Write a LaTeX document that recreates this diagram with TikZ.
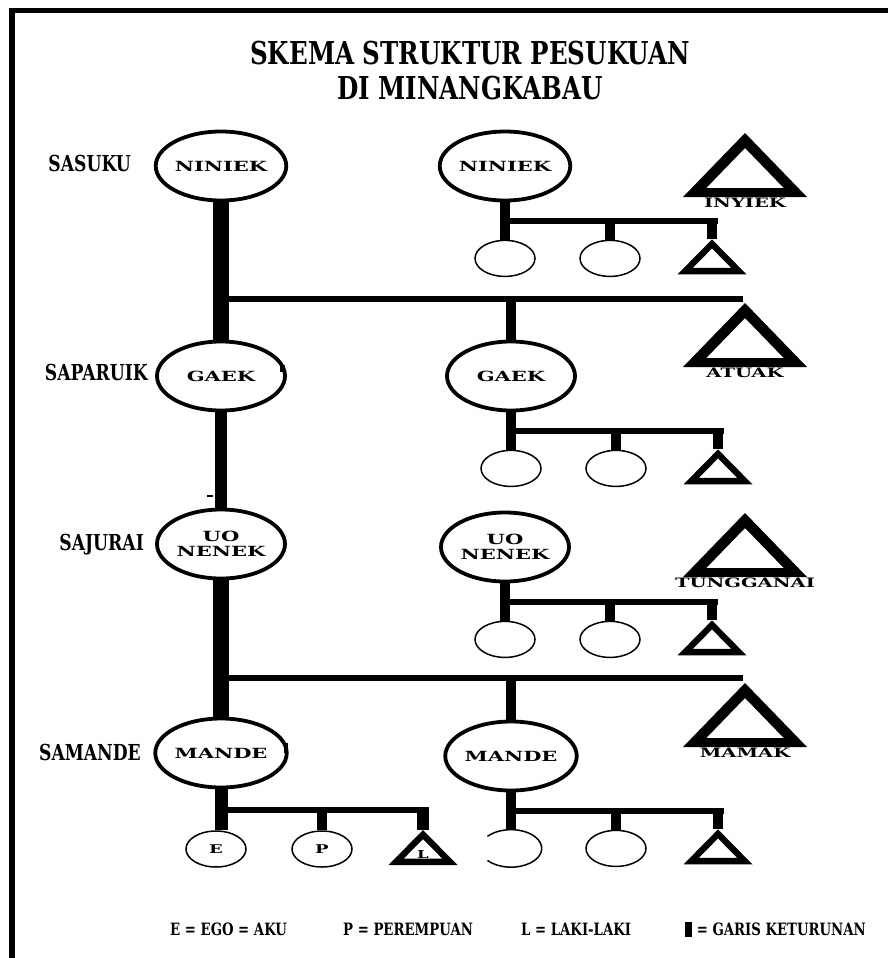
\documentclass[tikz,border=0pt]{standalone}
\usepackage{fontspec}
\usetikzlibrary{calc,shapes.geometric}
\newfontfamily\judulfont[FakeStretch=0.78]{DejaVu Serif}
\newfontfamily\lebarfont[FakeStretch=1.5]{DejaVu Serif}

% segitiga (laki-laki), titik = puncak
\newcommand{\tribesar}[1]{\fill[even odd rule,shift={(#1)}] (0,0) -- (62,64) -- (-62,64) -- cycle
  (0,15) -- (38.75,55) -- (-38.75,55) -- cycle;}
\newcommand{\trikecil}[1]{\fill[even odd rule,shift={(#1)}] (0,0) -- (34.5,35) -- (-34.5,35) -- cycle
  (0,9) -- (19.2,28.5) -- (-19.2,28.5) -- cycle;}

\tikzset{
  besar/.style={ellipse,draw,line width=3.8pt,minimum width=128pt,minimum height=69pt,
    inner sep=0pt,align=center,font=\lebarfont\bfseries\fontsize{14}{15}\selectfont},
  kecil/.style={ellipse,draw,line width=1.5pt,minimum width=60pt,minimum height=36pt,
    inner sep=0pt,font=\lebarfont\bfseries\fontsize{12}{14}\selectfont},
  kosong/.style={kecil,draw=none},
  sisi/.style={inner sep=0pt,anchor=east,font=\judulfont\bfseries\fontsize{22}{24}\selectfont},
  namatri/.style={inner sep=0pt,font=\lebarfont\bfseries\fontsize{13}{14}\selectfont},
  ket/.style={inner sep=0pt,anchor=west,font=\judulfont\bfseries\fontsize{17}{20}\selectfont},
  batang/.style={line width=16pt},
  palang/.style={line width=6.5pt},
  cabang/.style={line width=10pt},
}

\begin{document}
\begin{tikzpicture}[x=1pt,y=-1pt]
\useasboundingbox (0,0) rectangle (888,958);
% bingkai
\fill (9,8) rectangle (888,13);
\fill (9,8) rectangle (15,958);

% judul
\node[font=\judulfont\bfseries\fontsize{31.5}{34}\selectfont] (judul1) at (470,53) {SKEMA STRUKTUR PESUKUAN};
\node[font=\judulfont\bfseries\fontsize{31.5}{34}\selectfont] (judul2) at (470,88) {DI MINANGKABAU};

% tingkatan
\node[sisi] (l1) at (131,163) {SASUKU};
\node[sisi] (l2) at (148,372) {SAPARUIK};
\node[sisi] (l3) at (144,545) {SAJURAI};
\node[sisi] (l4) at (141,752) {SAMANDE};

% garis ibu
\node[besar] (n1) at (221,166) {NINIEK};
\node[besar] (g1) at (221,376) {GAEK};
\node[besar] (u1) at (221,544) {UO\\NENEK};
\node[besar] (m1) at (221,753) {MANDE};
\node[besar] (n2) at (505,166) {NINIEK};
\node[besar] (g2) at (511,376) {GAEK};
\node[besar] (u2) at (505,547) {UO\\NENEK};
\node[besar] (m2) at (511,756) {MANDE};

\draw[batang] (n1.south) -- (g1.north);
\draw[batang,line width=12pt] (g1.south) -- (u1.north);
\draw[batang] (u1.south) -- (m1.north);
\fill ($(g1.east)+(-7,-11)$) rectangle ++(5,7);
\fill ($(m1.east)+(-5,-10)$) rectangle ++(4,10);
\fill ($(u1.north)+(-14,-13)$) rectangle ++(6,2);

\coordinate (h1) at (743,299);
\coordinate (h2) at (743,678);
\draw[palang] (g1.north |- h1) -- (h1);
\draw[palang] (m1.north |- h2) -- (h2);
\draw[cabang] (g2.north |- h1) -- (g2.north);
\draw[cabang] (m2.north |- h2) -- (m2.north);

% mamak
\foreach \t/\y/\nama in {t1/133/INYIEK, t2/303/ATUAK, t3/513/TUNGGANAI, t4/683/MAMAK}{
  \coordinate (\t) at (745,\y);
  \tribesar{\t}
  \node[namatri] (\t n) at ($(\t)+(0,70)$) {\nama};
}

% anak-anak
\foreach \p/\k/\s in {n2/a/kecil, g2/b/kecil, u2/c/kecil, m2/d/kosong}{
  \node[\s] (\k1) at ($(\p.south)+(0,56)$) {};
  \node[kecil] (\k2) at ($(\k1)+(105,0)$) {};
  \coordinate (\k3) at ($(\k1)+(207,-19)$);
  \trikecil{\k3}
  \coordinate (\k0) at ($(\p.south)!.5!(\k1.north)$);
  \draw[cabang] (\p.south) -- (\k1.north);
  \draw[palang,shorten >=-5.5pt] (\k0) -- (\k0 -| \k3);
  \draw[cabang] (\k0 -| \k2.north) -- (\k2.north);
  \draw[cabang] (\k0 -| \k3) -- (\k3);
}
\draw[line width=1.5pt] (d1) ++(140:30.75 and 18.75) arc[start angle=140,end angle=-140,x radius=30.75,y radius=18.75];

\node[kecil] (ego) at (216,849) {E};
\node[kecil] (pr) at (322,849) {P};
\coordinate (lk) at (423,830);
\trikecil{lk}
\node[namatri,font=\lebarfont\bfseries\fontsize{11}{13}\selectfont] (lkn) at ($(lk)+(0,24)$) {L};
\coordinate (e0) at ($(m1.south)!.5!(m1.south |- ego.north)$);
\draw[cabang,line width=13pt] (m1.south) -- (m1.south |- ego.north);
\draw[palang,shorten >=-5.5pt] (e0) -- (e0 -| lk);
\draw[cabang] (e0 -| pr.north) -- (pr.north);
\draw[cabang,line width=12pt] (e0 -| lk) -- (lk);

% keterangan
\node[ket] (k1) at (170,929) {E = EGO = AKU};
\node[ket] (k2) at (343,929) {P = PEREMPUAN};
\node[ket] (k3) at (521,929) {L = LAKI-LAKI};
\node[ket] (k4) at (685,929) {\rule[-1pt]{7pt}{15pt} = GARIS KETURUNAN};
\end{tikzpicture}
\end{document}
